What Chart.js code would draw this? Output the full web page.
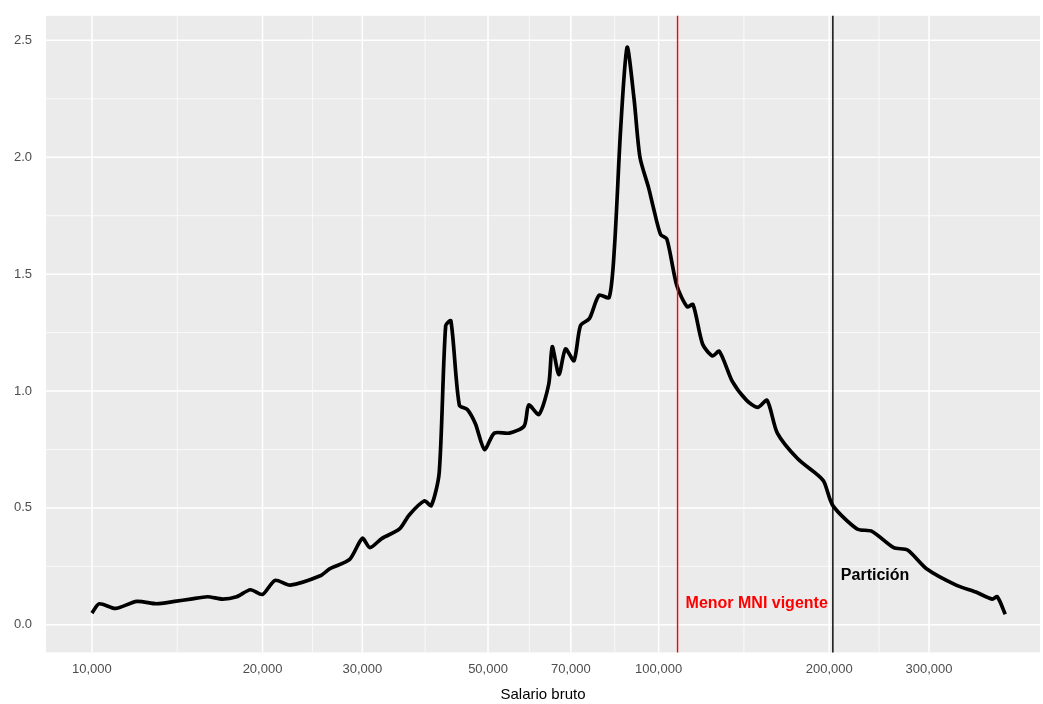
<!DOCTYPE html>
<html>
<head>
<meta charset="utf-8">
<script src="https://cdn.jsdelivr.net/npm/chart.js@4"></script>
<style>
  body { margin: 0; background: #fff; overflow: hidden; }
  #wrap { width: 1043px; height: 710px; margin-top: -6px; }
</style>
</head>
<body>
<div id="wrap"><canvas id="c"></canvas></div>
<script>
/* ======== DATA ======== */
const salary = [10000, 10300, 11000, 12000, 13000, 14000, 14930, 16000, 17000, 18000, 19040, 20000, 21040, 22380, 25290,
  26300, 28500, 30000, 30940, 32500, 34900, 36300, 38600, 39700, 41000, 42100, 43000, 44500, 46000, 47500,
  49300, 51300, 54500, 57900, 59000, 61500, 64000, 64900, 66700, 68500, 70900, 72800, 75500, 78500, 81800,
  83600, 85700, 88000, 90500, 92700, 96000, 98000, 100800, 103400, 107700, 112300, 115000, 119600, 124500,
  128000, 135000, 143000, 149600, 155400, 162000, 176000, 191000, 196000, 203000, 224000, 238000, 260000,
  275000, 297000, 335000, 363000, 388000, 396000, 409000];
const density = [0.05, 0.09, 0.07, 0.10, 0.09, 0.10, 0.11, 0.12, 0.11, 0.12, 0.15, 0.13, 0.19, 0.17, 0.21,
  0.24, 0.28, 0.37, 0.33, 0.37, 0.41, 0.47, 0.53, 0.51, 0.65, 1.28, 1.30, 0.94, 0.92, 0.86,
  0.75, 0.82, 0.82, 0.85, 0.94, 0.90, 1.03, 1.19, 1.07, 1.18, 1.13, 1.28, 1.31, 1.41, 1.40,
  1.62, 2.12, 2.47, 2.25, 2.00, 1.87, 1.78, 1.67, 1.65, 1.45, 1.36, 1.37, 1.20, 1.15,
  1.17, 1.04, 0.96, 0.93, 0.96, 0.82, 0.71, 0.64, 0.61, 0.51, 0.41, 0.40, 0.33,
  0.32, 0.24, 0.17, 0.14, 0.11, 0.12, 0.045];
const xTicks = [10000, 20000, 30000, 50000, 70000, 100000, 200000, 300000];
const yTicks = [0, 0.5, 1, 1.5, 2, 2.5];
const refLines = [
  { value: 108000, color: "#FF0000", label: "Menor MNI vigente", labelY: 0.09 },
  { value: 203000, color: "#000000", label: "Partición", labelY: 0.21 }
];

/* ======== PANEL / GRID PLUGIN ======== */
const panelPlugin = {
  id: "panel",
  beforeDatasetsDraw(chart) {
    const { ctx, chartArea: a, scales: { x, y } } = chart;
    ctx.save();
    ctx.fillStyle = "#EBEBEB";
    ctx.fillRect(a.left, a.top, a.right - a.left, a.bottom - a.top);
    ctx.strokeStyle = "#FFFFFF";
    // minor grid: midpoints in log / linear space
    ctx.lineWidth = 0.7;
    for (let i = 0; i < yTicks.length - 1; i++) {
      const py = y.getPixelForValue((yTicks[i] + yTicks[i + 1]) / 2);
      ctx.beginPath(); ctx.moveTo(a.left, py); ctx.lineTo(a.right, py); ctx.stroke();
    }
    for (let i = 0; i < xTicks.length - 1; i++) {
      const px = x.getPixelForValue(Math.sqrt(xTicks[i] * xTicks[i + 1]));
      ctx.beginPath(); ctx.moveTo(px, a.top); ctx.lineTo(px, a.bottom); ctx.stroke();
    }
    ctx.lineWidth = 1.5;
    yTicks.forEach(v => {
      const py = y.getPixelForValue(v);
      ctx.beginPath(); ctx.moveTo(a.left, py); ctx.lineTo(a.right, py); ctx.stroke();
    });
    xTicks.forEach(v => {
      const px = x.getPixelForValue(v);
      ctx.beginPath(); ctx.moveTo(px, a.top); ctx.lineTo(px, a.bottom); ctx.stroke();
    });
    ctx.restore();
  },
  afterDatasetsDraw(chart) {
    const { ctx, chartArea: a, scales: { x, y } } = chart;
    ctx.save();
    refLines.forEach(r => {
      const px = x.getPixelForValue(r.value);
      ctx.strokeStyle = r.color;
      ctx.lineWidth = 1.4;
      ctx.beginPath(); ctx.moveTo(px, a.top); ctx.lineTo(px, a.bottom); ctx.stroke();
      ctx.fillStyle = r.color;
      ctx.font = "bold 16px 'Liberation Sans', Arial, sans-serif";
      ctx.textAlign = "left";
      ctx.textBaseline = "middle";
      ctx.fillText(r.label, px + 8, y.getPixelForValue(r.labelY));
    });
    ctx.restore();
  }
};

/* ======== CHART ======== */
const chart = new Chart(document.getElementById("c"), {
  type: "line",
  data: {
    datasets: [{
      data: salary.map((s, i) => ({ x: s, y: density[i] })),
      borderColor: "#000000",
      borderWidth: 3.7,
      pointRadius: 0,
      tension: 0.25,
      fill: false
    }]
  },
  options: {
    responsive: true,
    maintainAspectRatio: false,
    animation: false,
    layout: { padding: { top: 0, right: 3, left: 0, bottom: 0 } },
    plugins: { legend: { display: false }, tooltip: { enabled: false } },
    scales: {
      x: {
        type: "logarithmic",
        min: 8300,
        max: 471000,
        afterBuildTicks: s => { s.ticks = xTicks.map(v => ({ value: v })); },
        ticks: {
          color: "#4D4D4D",
          font: { size: 13, family: "'Liberation Sans', Arial, sans-serif" },
          maxRotation: 0,
          autoSkip: false,
          padding: 9,
          callback: v => Number(v).toLocaleString("en-US")
        },
        grid: { display: false, drawTicks: false },
        border: { display: false },
        title: {
          display: true,
          text: "Salario bruto",
          color: "#000000",
          font: { size: 15, family: "'Liberation Sans', Arial, sans-serif" },
          padding: { top: 0, bottom: 0 }
        }
      },
      y: {
        min: -0.118,
        max: 2.605,
        afterBuildTicks: s => { s.ticks = yTicks.map(v => ({ value: v })); },
        ticks: {
          color: "#4D4D4D",
          font: { size: 13, family: "'Liberation Sans', Arial, sans-serif" },
          padding: 14,
          callback: v => Number(v).toFixed(1)
        },
        grid: { display: false, drawTicks: false },
        border: { display: false }
      }
    }
  },
  plugins: [panelPlugin]
});
</script>
</body>
</html>
